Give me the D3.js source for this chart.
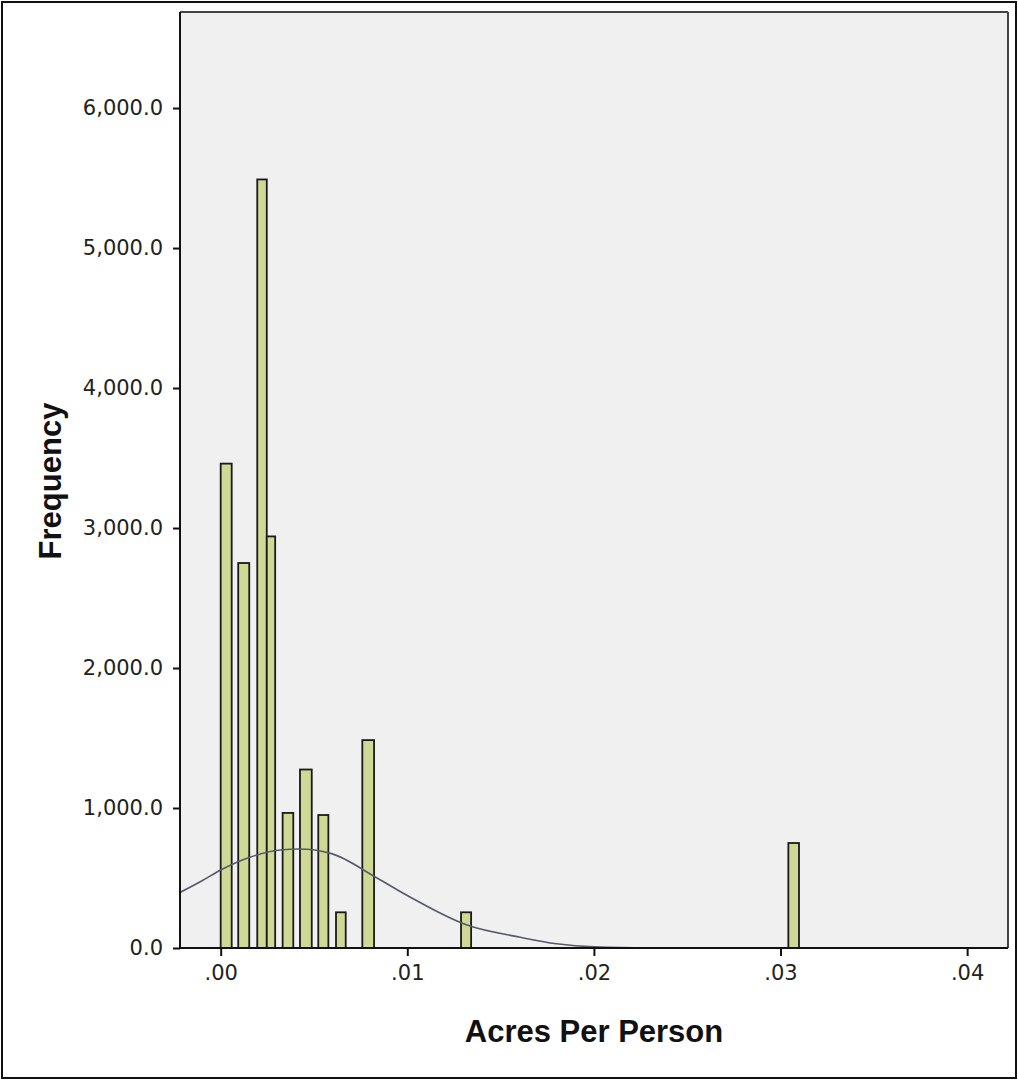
<!DOCTYPE html>
<html>
<head>
<meta charset="utf-8">
<script src="https://cdn.jsdelivr.net/npm/d3@7/dist/d3.min.js"></script>
<style>
  html, body { margin: 0; padding: 0; background: #ffffff; }
  svg { display: block; }
  text { font-family: "Liberation Sans", Arial, sans-serif; }
</style>
</head>
<body>
<script>
// ---- data ----
const binStart = [0.0000, 0.00094, 0.00196, 0.00247, 0.00332, 0.00425, 0.00523, 0.00618, 0.00759, 0.01288, 0.03042];
const binEnd   = [0.00059, 0.00153, 0.00247, 0.00292, 0.00389, 0.00488, 0.00577, 0.00670, 0.00822, 0.01342, 0.03099];
const frequency = [3460, 2750, 5490, 2940, 965, 1275, 950, 255, 1485, 255, 750];

// normal curve
const curveX = [-0.0022, -0.0010, 0.0000, 0.0016, 0.0032, 0.0042, 0.0059, 0.0084, 0.0100, 0.0132, 0.0160, 0.0180, 0.0200, 0.0230, 0.0300, 0.0422];
const curveY = [395, 480, 557, 650, 700, 707, 676, 498, 375, 164, 78, 30, 8, 1, 0, 0];

const xTicks = [0.00, 0.01, 0.02, 0.03, 0.04];
const yTicks = [0, 1000, 2000, 3000, 4000, 5000, 6000];
const xDomain = [-0.00218, 0.04219];
const yDomain = [0, 6686];
const xTitle = "Acres Per Person";
const yTitle = "Frequency";

// ---- layout ----
const W = 1018, H = 1080;
const plot = { left: 180, top: 12, right: 1008, bottom: 948 };
const tickFont = "'DejaVu Sans', Verdana, sans-serif";
const tickSize = 21;

const svg = d3.select("body").append("svg").attr("width", W).attr("height", H);

// outer frame
svg.append("rect").attr("x", 2).attr("y", 2).attr("width", W - 4).attr("height", H - 4)
  .attr("fill", "#ffffff").attr("stroke", "#111").attr("stroke-width", 2);

const x = d3.scaleLinear().domain(xDomain).range([plot.left, plot.right]);
const y = d3.scaleLinear().domain(yDomain).range([plot.bottom, plot.top]);

// plot background
svg.append("rect").attr("x", plot.left).attr("y", plot.top)
  .attr("width", plot.right - plot.left).attr("height", plot.bottom - plot.top)
  .attr("fill", "#f0f0f0");

svg.append("defs").append("clipPath").attr("id", "clip")
  .append("rect").attr("x", plot.left).attr("y", plot.top)
  .attr("width", plot.right - plot.left).attr("height", plot.bottom - plot.top);

// bars
const bars = binStart.map((s, i) => ({ x0: s, x1: binEnd[i], v: frequency[i] }));
svg.append("g").selectAll("rect").data(bars).join("rect")
  .attr("x", d => x(d.x0))
  .attr("y", d => y(d.v))
  .attr("width", d => x(d.x1) - x(d.x0))
  .attr("height", d => y(0) - y(d.v))
  .attr("fill", "#d0d896")
  .attr("stroke", "#1a1a1a")
  .attr("stroke-width", 1.8);

// normal curve
const pts = curveX.map((cx, i) => [cx, curveY[i]]);
svg.append("path").datum(pts)
  .attr("clip-path", "url(#clip)")
  .attr("fill", "none")
  .attr("stroke", "#555a66")
  .attr("stroke-width", 1.6)
  .attr("d", d3.line().x(d => x(d[0])).y(d => y(d[1])).curve(d3.curveMonotoneX));

// plot frame: top and right (grey)
svg.append("line").attr("x1", plot.left).attr("x2", plot.right).attr("y1", plot.top).attr("y2", plot.top)
  .attr("stroke", "#444").attr("stroke-width", 2);
svg.append("line").attr("x1", plot.right).attr("x2", plot.right).attr("y1", plot.top).attr("y2", plot.bottom)
  .attr("stroke", "#444").attr("stroke-width", 2);

// y axis
const yAxis = d3.axisLeft(y).tickValues(yTicks).tickFormat(d3.format(",.1f")).tickSize(7).tickPadding(10);
const gy = svg.append("g").attr("transform", `translate(${plot.left},0)`).call(yAxis);
gy.attr("font-size", tickSize).attr("font-family", tickFont);
gy.select(".domain").attr("stroke", "#111").attr("stroke-width", 2)
  .attr("d", `M0,${plot.top}V${plot.bottom}`);
gy.selectAll(".tick line").attr("stroke", "#111").attr("stroke-width", 2);
gy.selectAll(".tick text").attr("fill", "#222")
  .style("font-family", tickFont).style("font-size", tickSize + "px");

// x axis
const xAxis = d3.axisBottom(x).tickValues(xTicks)
  .tickFormat(d => d3.format(".2f")(d).replace(/^0/, "")).tickSize(8).tickPadding(9);
const gx = svg.append("g").attr("transform", `translate(0,${plot.bottom})`).call(xAxis);
gx.attr("font-size", tickSize).attr("font-family", tickFont);
gx.select(".domain").attr("stroke", "#111").attr("stroke-width", 2)
  .attr("d", `M${plot.left},0H${plot.right}`);
gx.selectAll(".tick line").attr("stroke", "#111").attr("stroke-width", 2);
gx.selectAll(".tick text").attr("fill", "#222")
  .style("font-family", tickFont).style("font-size", tickSize + "px");

// axis titles
svg.append("text").attr("x", 594).attr("y", 1042).attr("text-anchor", "middle")
  .attr("font-size", 31).attr("font-weight", "bold").attr("fill", "#111").text(xTitle);
svg.append("text").attr("transform", "translate(61,481) rotate(-90)").attr("text-anchor", "middle")
  .attr("font-size", 31).attr("font-weight", "bold").attr("fill", "#111").text(yTitle);
</script>
</body>
</html>
